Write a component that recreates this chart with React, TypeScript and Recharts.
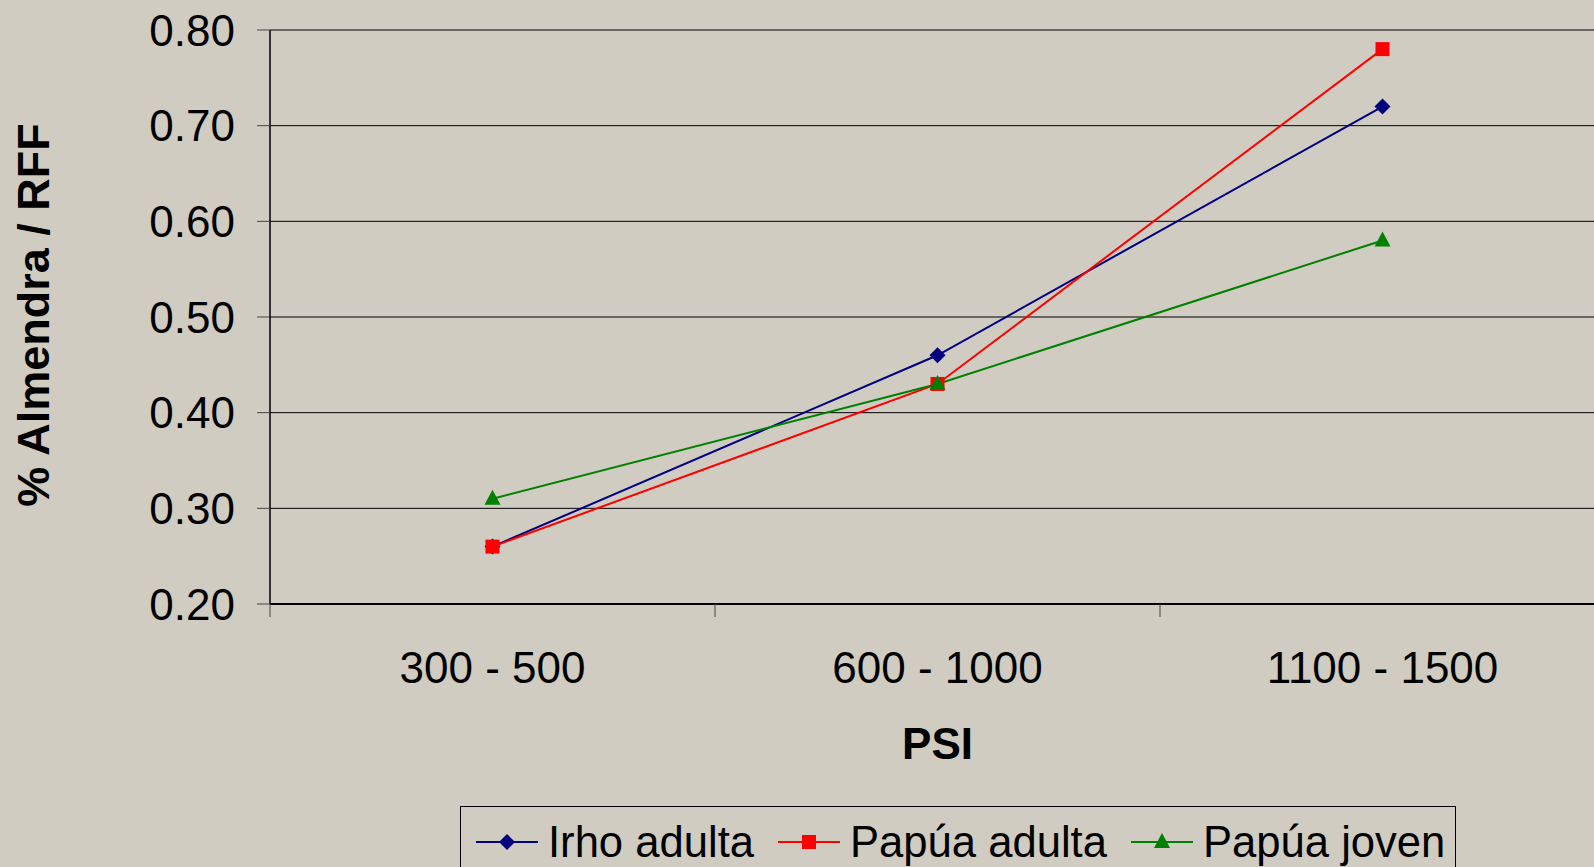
import React from "react";
import {
  LineChart,
  Line,
  XAxis,
  YAxis,
  CartesianGrid,
  Label,
} from "recharts";

const psiRanges = ["300 - 500", "600 - 1000", "1100 - 1500"];
const irhoAdulta = [0.26, 0.46, 0.72];
const papuaAdulta = [0.26, 0.43, 0.78];
const papuaJoven = [0.31, 0.43, 0.58];
const yTicks = [0.2, 0.3, 0.4, 0.5, 0.6, 0.7, 0.8];

const series = [
  { key: "irho", name: "Irho adulta", color: "#000080", shape: "diamond", values: irhoAdulta },
  { key: "papua", name: "Papúa adulta", color: "#FF0000", shape: "square", values: papuaAdulta },
  { key: "joven", name: "Papúa joven", color: "#008000", shape: "triangle", values: papuaJoven },
];

const data = psiRanges.map((psi, i) => {
  const row: any = { psi };
  series.forEach((s) => (row[s.key] = s.values[i]));
  return row;
});

const FONT = "'Liberation Sans', Arial, sans-serif";
const BG = "#D0CCC1";

const Marker = ({ shape, color, cx, cy }: any) => {
  if (shape === "diamond") {
    return <polygon points={`${cx},${cy - 8} ${cx + 8},${cy} ${cx},${cy + 8} ${cx - 8},${cy}`} fill={color} />;
  }
  if (shape === "square") {
    return <rect x={cx - 7} y={cy - 7} width={14} height={14} fill={color} />;
  }
  return <polygon points={`${cx},${cy - 9} ${cx + 8},${cy + 6} ${cx - 8},${cy + 6}`} fill={color} />;
};

const makeDot = (shape: string, color: string) => (props: any) => {
  const { cx, cy, index } = props;
  if (cx == null || cy == null) return <g key={index} />;
  return <Marker key={index} shape={shape} color={color} cx={cx} cy={cy} />;
};

// category labels centred in each band, tick marks on the band edges
const XTick = (props: any) => {
  const { x, y, payload } = props;
  const half = payload && payload.offset ? payload.offset : 0;
  return (
    <g>
      <line x1={x - half} x2={x - half} y1={y - 13} y2={y} stroke="#444" strokeWidth={1} />
      <text x={x} y={y + 50} textAnchor="middle" dy="0.36em" fontSize={44} fontFamily={FONT} fill="#000">
        {payload.value}
      </text>
    </g>
  );
};

const YTitle = (props: any) => {
  const vb = props.viewBox || {};
  const cy = vb.y + vb.height / 2 - 2;
  return (
    <text
      x={33}
      y={cy}
      transform={`rotate(-90, 33, ${cy})`}
      textAnchor="middle"
      dy="0.36em"
      fontSize={45}
      fontWeight="bold"
      fontFamily={FONT}
      fill="#000"
    >
      % Almendra / RFF
    </text>
  );
};

const XTitle = (props: any) => {
  const vb = props.viewBox || {};
  const cx = vb.x + vb.width / 2;
  return (
    <text x={cx} y={743} textAnchor="middle" dy="0.36em" fontSize={44} fontWeight="bold" fontFamily={FONT} fill="#000">
      PSI
    </text>
  );
};

const ChartLegend = () => (
  <div
    style={{
      position: "absolute",
      left: 460,
      top: 806,
      width: 996,
      height: 80,
      border: "1px solid #000",
      boxSizing: "border-box",
      display: "flex",
      alignItems: "flex-start",
      paddingTop: 13,
      paddingLeft: 15,
      fontFamily: FONT,
      fontSize: 43.6,
      lineHeight: "44px",
      color: "#000",
    }}
  >
    {series.map((s) => (
      <div key={s.key} style={{ display: "flex", alignItems: "center", marginRight: 24 }}>
        <svg width={62} height={20} style={{ marginRight: 10 }}>
          <line x1={0} x2={62} y1={10} y2={10} stroke={s.color} strokeWidth={2} />
          <Marker shape={s.shape} color={s.color} cx={31} cy={10} />
        </svg>
        <span style={{ whiteSpace: "nowrap" }}>{s.name}</span>
      </div>
    ))}
  </div>
);

export default function App() {
  return (
    <div
      style={{
        position: "fixed",
        left: 0,
        top: 0,
        width: 1594,
        height: 867,
        overflow: "hidden",
        background: BG,
      }}
    >
      <LineChart
        width={1620}
        height={867}
        data={data}
        margin={{ top: 30, right: 15, left: 0, bottom: 0 }}
      >
        <CartesianGrid vertical={false} stroke="#000" strokeWidth={1} />
        <XAxis
          dataKey="psi"
          scale="band"
          height={263}
          axisLine={{ stroke: "#000", strokeWidth: 2 }}
          tickLine={false}
          tickSize={13}
          tickMargin={0}
          tick={<XTick />}
          interval={0}
        >
          <Label content={<XTitle />} />
        </XAxis>
        <YAxis
          width={270}
          domain={[0.2, 0.8]}
          ticks={yTicks}
          tickFormatter={(v: number) => v.toFixed(2)}
          axisLine={{ stroke: "#000", strokeWidth: 1.5 }}
          tickLine={{ stroke: "#444" }}
          tickSize={13}
          tickMargin={22}
          tick={{ fontSize: 44, fontFamily: FONT, fill: "#000" }}
          allowDataOverflow
        >
          <Label content={<YTitle />} />
        </YAxis>
        {series.map((s) => (
          <Line
            key={s.key}
            type="linear"
            dataKey={s.key}
            name={s.name}
            stroke={s.color}
            strokeWidth={2}
            dot={makeDot(s.shape, s.color)}
            activeDot={false}
            isAnimationActive={false}
          />
        ))}
      </LineChart>
      <ChartLegend />
    </div>
  );
}
